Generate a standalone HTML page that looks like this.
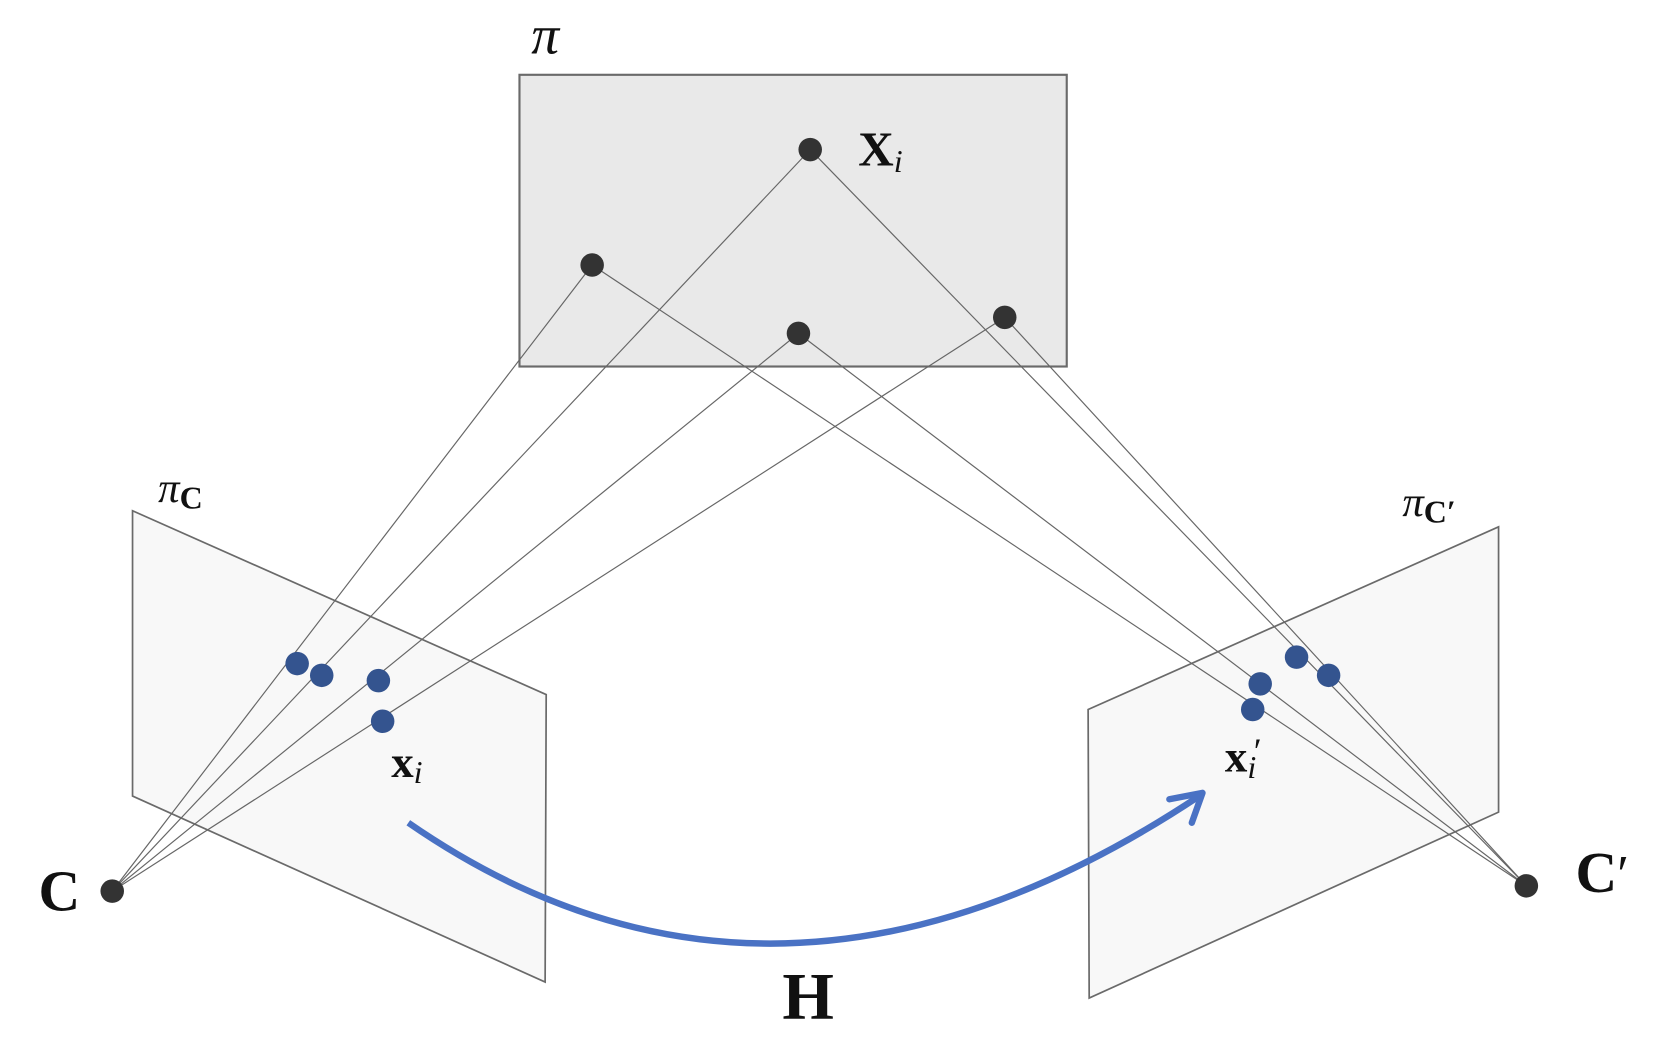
<!DOCTYPE html>
<html><head><meta charset="utf-8"><style>
html,body{margin:0;padding:0;background:#fff;}
svg{display:block;}
text{font-family:"Liberation Serif",serif;fill:#111;}
</style></head><body>
<svg width="1676" height="1060" viewBox="0 0 1568 992" preserveAspectRatio="none" xmlns="http://www.w3.org/2000/svg">
<rect x="486" y="70" width="512" height="273" fill="#e9e9e9" stroke="#6a6a6a" stroke-width="2"/>
<polygon points="124,478 511,650 510,919 124,745" fill="#f8f8f8" stroke="#6a6a6a" stroke-width="1.6"/>
<polygon points="1018,664 1402,493 1402,760 1019,934" fill="#f8f8f8" stroke="#6a6a6a" stroke-width="1.6"/>
<g stroke="#666" stroke-width="1.1">
<line x1="105" y1="834" x2="554" y2="248"/>
<line x1="105" y1="834" x2="758" y2="140"/>
<line x1="105" y1="834" x2="747" y2="312"/>
<line x1="105" y1="834" x2="940" y2="297"/>
<line x1="1428" y1="829" x2="554" y2="248"/>
<line x1="1428" y1="829" x2="758" y2="140"/>
<line x1="1428" y1="829" x2="747" y2="312"/>
<line x1="1428" y1="829" x2="940" y2="297"/>
</g>
<g fill="#333">
<circle cx="758" cy="140" r="11"/><circle cx="554" cy="248" r="11"/>
<circle cx="747" cy="312" r="11"/><circle cx="940" cy="297" r="11"/>
<circle cx="105" cy="834" r="11"/><circle cx="1428" cy="829" r="11"/>
</g>
<g fill="#34548f">
<circle cx="278" cy="621" r="11"/><circle cx="301" cy="632" r="11"/>
<circle cx="354" cy="637" r="11"/><circle cx="358" cy="675" r="11"/>
<circle cx="1213" cy="615" r="11"/><circle cx="1243" cy="632" r="11"/>
<circle cx="1179" cy="640" r="11"/><circle cx="1172" cy="664" r="11"/>
</g>
<path d="M382,770 Q726,1008 1122,745" fill="none" stroke="#4a72c4" stroke-width="6"/>
<path d="M1094,748 L1125,742 L1115,770" fill="none" stroke="#4a72c4" stroke-width="6" stroke-linecap="round" stroke-linejoin="round"/>
<text x="497" y="50" font-size="52" font-style="italic">π</text>
<text x="803" y="155" font-size="46" font-weight="bold">X<tspan font-size="30" font-style="italic" font-weight="normal" dy="6">i</tspan></text>
<text x="148" y="470" font-size="40" font-style="italic">π<tspan font-size="30" font-style="normal" font-weight="bold" dy="6">C</tspan></text>
<text x="1312" y="483" font-size="40" font-style="italic">π<tspan font-size="30" font-style="normal" font-weight="bold" dy="6">C′</tspan></text>
<text x="366" y="727" font-size="42" font-weight="bold">x<tspan font-size="30" font-style="italic" font-weight="normal" dy="6">i</tspan></text>
<text x="1146" y="722" font-size="42" font-weight="bold">x<tspan font-size="30" font-style="italic" font-weight="normal" dy="6">i</tspan></text>
<text x="1173" y="714" font-size="34">′</text>
<text x="36" y="852" font-size="54" font-weight="bold">C</text>
<text x="1474" y="835" font-size="54" font-weight="bold">C<tspan font-weight="normal" font-size="50">′</tspan></text>
<text x="732" y="953" font-size="62" font-weight="bold">H</text>
</svg>
</body></html>
